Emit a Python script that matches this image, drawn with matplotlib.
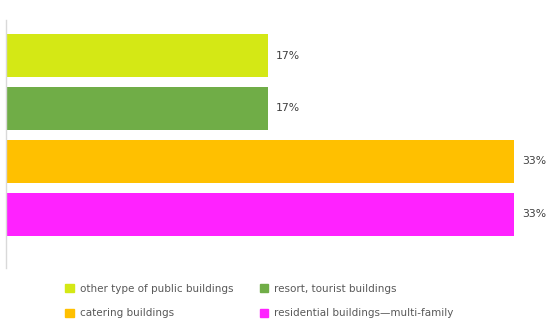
import matplotlib

matplotlib.use("Agg")
import matplotlib.pyplot as plt
from matplotlib.patches import Patch

# Categories top to bottom
categories = [
    "other type of public buildings",
    "resort, tourist buildings",
    "catering buildings",
    "residential buildings\u2014multi-family",
]
values = [17, 17, 33, 33]
labels = ["17%", "17%", "33%", "33%"]
colors = ["#d4e815", "#70ad47", "#ffc000", "#ff22ff"]

fig = plt.figure(figsize=(5.5, 3.23), dpi=100)
ax = fig.add_axes([6 / 550, 1 - 268 / 323, 539 / 550, 248 / 323])

y = range(len(categories))
ax.barh(y, values, height=0.81, color=colors)
for yi, v, lab in zip(y, values, labels):
    ax.text(v + 0.55, yi, lab, va="center", ha="left", fontsize=7.8, color="#404040")

ax.set_xlim(0, 35.0)
ax.set_ylim(4.01, -0.67)
ax.set_xticks([])
ax.set_yticks([])
for side in ["top", "right", "bottom"]:
    ax.spines[side].set_visible(False)
ax.spines["left"].set_color("#d9d9d9")
ax.spines["left"].set_linewidth(1.0)

# legend fills column-wise, so reorder to read row-wise
order = [0, 2, 1, 3]
handles = [Patch(color=colors[i], label=categories[i]) for i in order]
fig.legend(
    handles=handles,
    ncol=2,
    loc="center left",
    bbox_to_anchor=(56 / 550, 1 - 301 / 323),
    frameon=False,
    fontsize=7.5,
    labelcolor="#595959",
    handlelength=0.8,
    handleheight=0.8,
    handletextpad=0.6,
    columnspacing=2.5,
    labelspacing=1.4,
)

fig.savefig("out.png", dpi=100)
